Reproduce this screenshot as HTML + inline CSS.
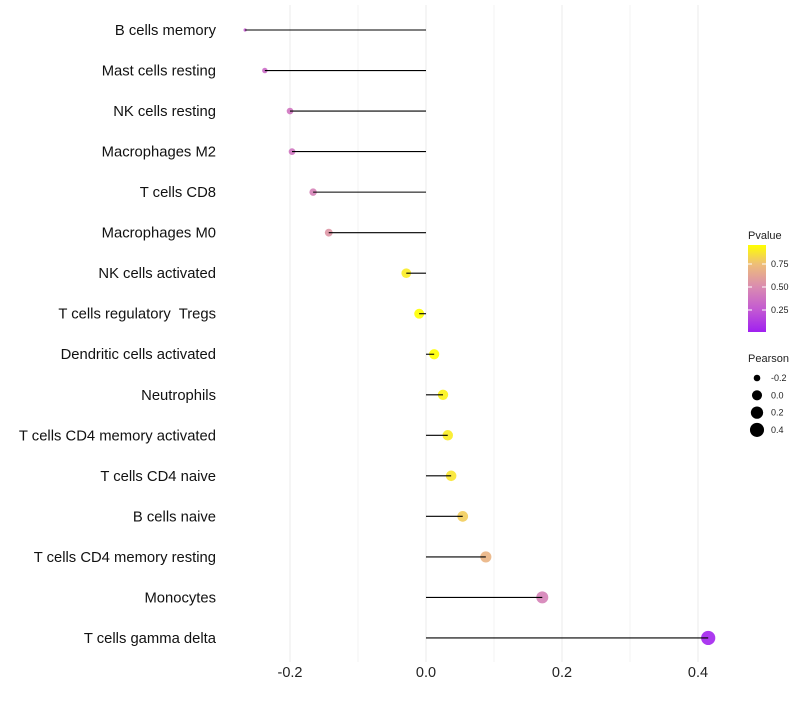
<!DOCTYPE html>
<html><head><meta charset="utf-8"><style>
body{margin:0;background:#fff;font-family:"Liberation Sans",sans-serif}
svg text{font-family:"Liberation Sans",sans-serif;white-space:pre}
</style></head><body>
<svg id="chart" width="800" height="700"></svg>
<script>
const categories=["B cells memory","Mast cells resting","NK cells resting","Macrophages M2","T cells CD8","Macrophages M0","NK cells activated","T cells regulatory  Tregs","Dendritic cells activated","Neutrophils","T cells CD4 memory activated","T cells CD4 naive","B cells naive","T cells CD4 memory resting","Monocytes","T cells gamma delta"];
const pearson=[-0.266,-0.237,-0.2,-0.197,-0.166,-0.143,-0.029,-0.010,0.012,0.025,0.032,0.037,0.054,0.088,0.171,0.415];
const pvalues=[0.27,0.33,0.38,0.38,0.45,0.55,0.9,0.97,0.96,0.92,0.9,0.88,0.8,0.7,0.45,0.02];
const xTicks=[-0.2,0,0.2,0.4];
const xMinor=[-0.1,0.1,0.3];
const legendP=[0.25,0.5,0.75];
const legendSize=[-0.2,0,0.2,0.4];

const NS="http://www.w3.org/2000/svg";
const svg=document.getElementById('chart');
function el(t,a,p){const e=document.createElementNS(NS,t);for(const k in a)e.setAttribute(k,a[k]);(p||svg).appendChild(e);return e;}
const x=v=>426+v*680;
const y=i=>30+i*40.53;
const pMin=Math.min(...pearson),pMax=Math.max(...pearson);
const r=v=>{const t=Math.max(0,Math.min(1,(v-pMin)/(pMax-pMin)));return 1.6+5.5*Math.sqrt(t);};
const stops=[[0,[160,32,240]],[0.25,[195,90,210]],[0.5,[218,140,176]],[0.75,[238,190,120]],[0.96,[255,255,0]]];
function col(p){for(let i=1;i<stops.length;i++){if(p<=stops[i][0]||i==stops.length-1){const a=stops[i-1],b=stops[i];let t=(p-a[0])/(b[0]-a[0]);t=Math.max(0,Math.min(1,t));return 'rgb('+a[1].map((c,j)=>Math.round(c+(b[1][j]-c)*t)).join(',')+')';}}}

xMinor.forEach(v=>{const g=el('line',{x1:x(v),x2:x(v),y1:5,y2:662,stroke:'#f3f3f3','stroke-width':1});

});
xTicks.forEach(v=>{const g=el('line',{x1:x(v),x2:x(v),y1:5,y2:662,stroke:'#ebebeb','stroke-width':1});


const t=el('text',{x:x(v),y:677,'text-anchor':'middle','font-size':14.5,fill:'#222'});t.textContent=(v===0?'0.0':v.toFixed(1));

});

categories.forEach((c,i)=>{
const t=el('text',{x:216,y:y(i)+5,'text-anchor':'end','font-size':14.8,fill:'#111'});t.textContent=c;


const p=el('circle',{cx:x(pearson[i]),cy:y(i),r:r(pearson[i]),fill:col(pvalues[i]),'fill-opacity':0.9});


const l=el('line',{x1:x(0),x2:x(pearson[i]),y1:y(i),y2:y(i),stroke:'#000','stroke-width':1.1});


});

const defs=el('defs',{});const lg=el('linearGradient',{id:'pg',x1:0,y1:1,x2:0,y2:0},defs);
stops.forEach(s=>el('stop',{offset:s[0]/0.96,'stop-color':'rgb('+s[1].join(',')+')'},lg));
const lt=el('text',{x:748,y:239,'font-size':11,fill:'#222'});lt.textContent='Pvalue';


const bar=el('rect',{x:748,y:245,width:18,height:87,fill:'url(#pg)'});


legendP.forEach(v=>{const yy=333-v*92;
el('line',{x1:748,x2:752,y1:yy,y2:yy,stroke:'#fff'});el('line',{x1:762,x2:766,y1:yy,y2:yy,stroke:'#fff'});
const t=el('text',{x:771,y:yy+3,'font-size':9,fill:'#222'});t.textContent=v.toFixed(2);

});
const st=el('text',{x:748,y:362,'font-size':11,fill:'#222'});st.textContent='Pearson';


legendSize.forEach((v,i)=>{const yy=378+i*17.3;
const c=el('circle',{cx:757,cy:yy,r:r(v),fill:'#000'});


const t=el('text',{x:771,y:yy+3,'font-size':9,fill:'#222'});t.textContent=v.toFixed(1);

});
</script>
</body></html>
